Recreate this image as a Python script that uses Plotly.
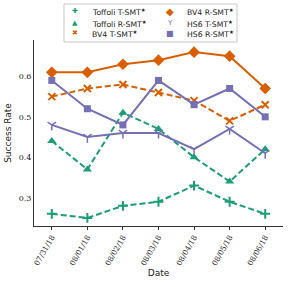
import plotly.graph_objects as go

dates = ["07/31/18", "08/01/18", "08/02/18", "08/03/18", "08/04/18", "08/05/18", "08/06/18"]
toffoli_t = [0.26, 0.25, 0.28, 0.29, 0.33, 0.29, 0.26]
toffoli_r = [0.44, 0.37, 0.51, 0.47, 0.40, 0.34, 0.42]
bv4_t = [0.55, 0.57, 0.58, 0.56, 0.54, 0.49, 0.53]
bv4_r = [0.61, 0.61, 0.63, 0.64, 0.66, 0.65, 0.57]
hs6_t = [0.48, 0.45, 0.46, 0.46, 0.42, 0.47, 0.41]
hs6_r = [0.59, 0.52, 0.48, 0.59, 0.53, 0.57, 0.50]
series_names = ["Toffoli T-SMT", "Toffoli R-SMT", "BV4 T-SMT", "BV4 R-SMT", "HS6 T-SMT", "HS6 R-SMT"]

GREEN, ORANGE, PURPLE = "#1b9e77", "#d95f02", "#7570b3"

styles = [
    (GREEN, "6px,3px", "cross-thin", 7, "✚"),
    (GREEN, "6px,3px", "triangle-up", 8, "▲"),
    (ORANGE, "6px,3px", "x-thin", 7, "✖"),
    (ORANGE, "solid", "diamond", 9, "◆"),
    (PURPLE, "solid", "y-down", 7, "Y"),
    (PURPLE, "solid", "square", 7, "■"),
]
data = [toffoli_t, toffoli_r, bv4_t, bv4_r, hs6_t, hs6_r]

# plot area in pixels: x 34..283, y 40..226
W, H = 290, 287
L, R, T, B = 34, 7, 40, 61
pw, ph = W - L - R, H - T - B
def px(x):
    return (x - L) / pw
def py(y):
    return (H - B - y) / ph

fig = go.Figure()
for name, vals, (col, dash, sym, size, glyph) in zip(series_names, data, styles):
    marker = dict(symbol=sym, size=size, color=col)
    if sym in ("y-down", "cross-thin", "x-thin"):
        marker["line"] = dict(color=col, width=2 if sym != "y-down" else 1.5)
    fig.add_trace(go.Scatter(
        x=dates, y=vals, name=name, mode="lines+markers",
        line=dict(color=col, width=2, dash=dash), marker=marker,
        showlegend=False,
    ))

# manual legend (3 rows x 2 columns, column-major)
fig.add_shape(type="rect", xref="paper", yref="paper",
              x0=px(64), x1=px(237), y0=py(42), y1=py(4),
              line=dict(color="#c8c8c8", width=1), fillcolor="white")
rows_y = [12.5, 23.5, 34]
for i, (name, (col, dash, sym, size, glyph)) in enumerate(zip(series_names, styles)):
    c, r = divmod(i, 3)
    mx = 75 if c == 0 else 170
    tx = 90 if c == 0 else 185
    yy = rows_y[r]
    gsize = {"✚": 7, "▲": 7, "✖": 7, "◆": 10, "Y": 7, "■": 8}[glyph]
    fig.add_annotation(xref="paper", yref="paper", x=px(mx), y=py(yy - 1),
                       text=glyph, showarrow=False, xanchor="center", yanchor="middle",
                       font=dict(color=col, size=gsize, family="DejaVu Sans"))
    fig.add_annotation(xref="paper", yref="paper", x=px(tx), y=py(yy),
                       text=name + "<sup>★</sup>", showarrow=False, xanchor="left",
                       yanchor="middle",
                       font=dict(color="#222", size=7.7, family="DejaVu Sans"))

fig.update_layout(
    width=W, height=H,
    margin=dict(l=L, r=R, t=T, b=B, autoexpand=False),
    plot_bgcolor="white", paper_bgcolor="white",
    font=dict(family="DejaVu Sans", size=9, color="#222"),
    showlegend=False,
    xaxis=dict(
        type="category", range=[-0.5, 6.5], showline=True, linecolor="#333",
        linewidth=1, ticks="outside", ticklen=3, tickcolor="#333",
        tickangle=-60, showgrid=False, zeroline=False,
        tickfont=dict(family="DejaVu Serif", size=7.5),
        title=dict(text="Date", font=dict(size=9), standoff=3),
    ),
    yaxis=dict(
        range=[0.23, 0.69], showline=True, linecolor="#333", linewidth=1,
        ticks="", showgrid=False, zeroline=False,
        tickvals=[0.3, 0.4, 0.5, 0.6], ticktext=["0.3", "0.4", "0.5", "0.6"],
        tickfont=dict(family="DejaVu Serif", size=8),
        title=dict(text="Success Rate", font=dict(size=9), standoff=5),
    ),
)

fig.write_html("out.html", config={"displayModeBar": False},
               post_script="document.body.style.margin='0';")
